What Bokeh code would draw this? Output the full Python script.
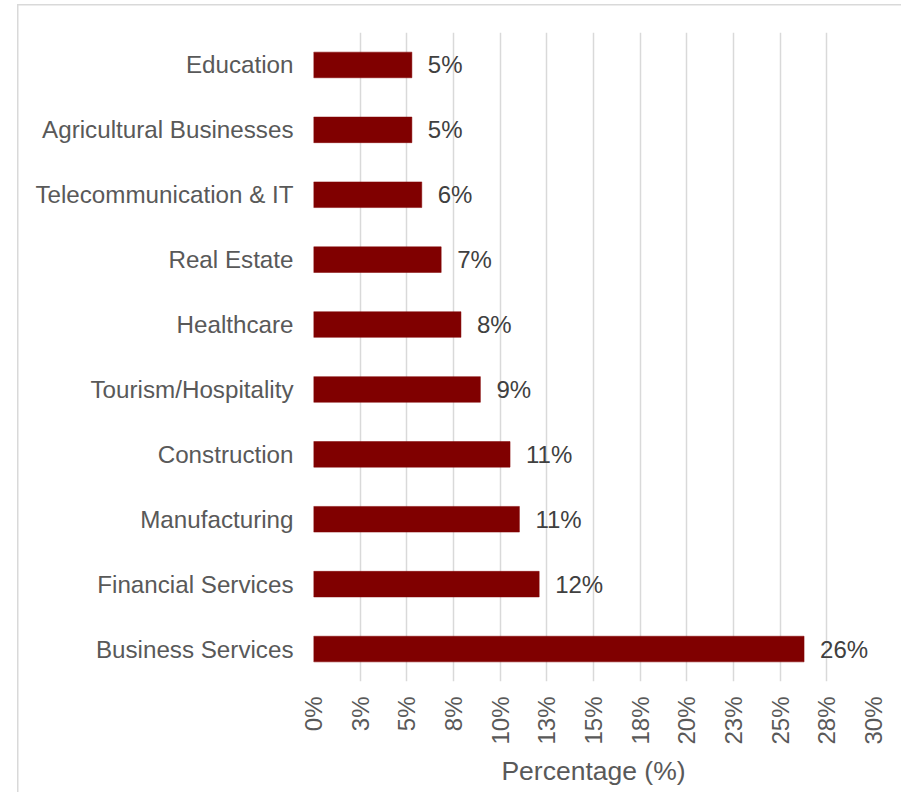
import math
from bokeh.plotting import figure
from bokeh.models import ColumnDataSource, FactorRange, Range1d, FixedTicker, LabelSet
from bokeh.core.properties import value
from bokeh.embed import file_html
from bokeh.resources import INLINE

categories = ["Education", "Agricultural Businesses", "Telecommunication & IT", "Real Estate",
              "Healthcare", "Tourism/Hospitality", "Construction", "Manufacturing",
              "Financial Services", "Business Services"]
values = [5.27, 5.27, 5.8, 6.84, 7.9, 8.94, 10.53, 11.03, 12.09, 26.28]
tick_values = [0, 2.5, 5, 7.5, 10, 12.5, 15, 17.5, 20, 22.5, 25, 27.5, 30]
tick_labels = ["0%", "3%", "5%", "8%", "10%", "13%", "15%", "18%", "20%", "23%", "25%", "28%", "30%"]

labels = [f"{int(math.floor(v + 0.5))}%" for v in values]
source = ColumnDataSource(dict(cat=categories, val=values, lab=labels))

FONT = "Liberation Sans"
W, H = 901, 792

# light grey chart-area border (left and top edges are visible in the picture)
border_css = ("linear-gradient(#d9d9d9,#d9d9d9) 16.5px 3.5px / 1.5px 100% no-repeat, "
              "linear-gradient(#d9d9d9,#d9d9d9) 16.5px 3.5px / 100% 1.5px no-repeat, white")

p = figure(width=W, height=H, output_backend="svg", toolbar_location=None,
           y_range=FactorRange(*list(reversed(categories))), x_range=Range1d(0, 30),
           min_border_left=313, min_border_right=28, min_border_top=32, min_border_bottom=111,
           styles={"background": border_css})
p.outline_line_color = None
p.background_fill_color = None
p.border_fill_color = None

p.hbar(y="cat", right="val", left=0, height=0.395, source=source,
       fill_color="#800000", line_color="#800000", line_width=0.5)

p.add_layout(LabelSet(x="val", y="cat", text="lab", source=source, x_offset=16,
                      text_baseline="middle", text_align="left", text_font=value(FONT),
                      text_font_size="24px", text_color="#404040"))

ticker = FixedTicker(ticks=tick_values)
p.xaxis.ticker = ticker
p.xaxis.major_label_overrides = {t: l for t, l in zip(tick_values, tick_labels)}
p.xaxis.major_label_orientation = math.pi / 2
p.xaxis.major_label_standoff = 15
p.xaxis.major_tick_out = 0
p.xaxis.major_tick_in = 0
p.xaxis.minor_tick_out = 0
p.xaxis.minor_tick_in = 0
p.xaxis.axis_line_color = None
p.xaxis.major_label_text_font = FONT
p.xaxis.major_label_text_font_size = "24px"
p.xaxis.major_label_text_color = "#595959"
p.xaxis.axis_label = "Percentage (%)"
p.xaxis.axis_label_text_font = FONT
p.xaxis.axis_label_text_font_size = "26.5px"
p.xaxis.axis_label_text_font_style = "normal"
p.xaxis.axis_label_text_color = "#595959"
p.xaxis.axis_label_standoff = 8

p.yaxis.major_label_standoff = 20
p.yaxis.major_tick_out = 0
p.yaxis.major_tick_in = 0
p.yaxis.axis_line_color = None
p.yaxis.major_label_text_font = FONT
p.yaxis.major_label_text_font_size = "24.2px"
p.yaxis.major_label_text_color = "#595959"

p.xgrid.ticker = ticker
p.xgrid.grid_line_color = "#d9d9d9"
p.xgrid.grid_line_width = 1.5
p.ygrid.grid_line_color = None

open("out.html", "w").write(file_html(p, INLINE))
